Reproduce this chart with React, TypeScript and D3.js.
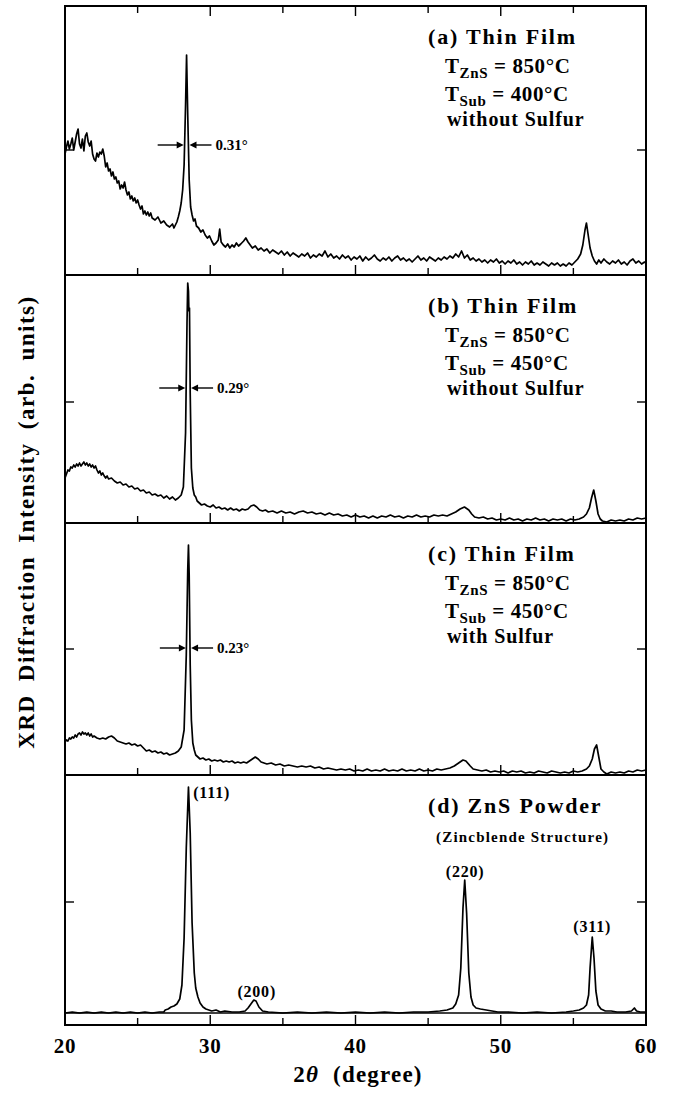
import * as d3 from "d3"

// 2θ axis
const xMajor = [30, 40, 50]
const xMinor = [25, 35, 45, 55]
const xLabels = [20, 30, 40, 50, 60]

// intensities (arb. units)
const filmA: [number, number][] = [
  [20.0,121],[20.1,128],[20.2,134],[20.3,126],[20.4,131],[20.5,137],[20.6,125],[20.7,133],[20.8,141],[20.9,146],
  [21.0,131],[21.1,127],[21.2,136],[21.3,124],[21.4,139],[21.5,142],[21.6,133],[21.7,129],[21.8,134],[21.9,121],
  [22.0,116],[22.1,114],[22.2,122],[22.3,118],[22.4,123],[22.5,121],[22.6,126],[22.7,119],[22.8,108],[22.9,112],
  [23.0,104],[23.1,106],[23.2,99],[23.3,103],[23.4,96],[23.5,98],[23.6,92],[23.7,94],[23.8,86],[23.9,90],
  [24.0,87],[24.1,93],[24.2,85],[24.3,80],[24.4,83],[24.5,76],[24.6,79],[24.7,74],[24.8,77],[24.9,72],
  [25.0,75],[25.1,70],[25.2,66],[25.3,69],[25.4,61],[25.5,64],[25.6,60],[25.7,63],[25.8,59],[25.9,62],
  [26.0,57],[26.2,55],[26.4,58],[26.6,52],[26.8,54],[27.0,50],[27.2,48],[27.4,51],[27.5,47],[27.6,50],
  [27.7,53],[27.8,58],[27.9,64],[28.0,72],[28.1,85],[28.2,110],[28.3,170],[28.37,220],[28.45,160],[28.55,95],
  [28.65,68],[28.75,60],[28.85,54],[28.95,56],[29.05,49],[29.2,47],[29.35,43],[29.5,45],[29.65,40],[29.8,37],
  [29.95,39],[30.1,34],[30.25,30],[30.4,32],[30.55,35],[30.65,46],[30.75,33],[30.9,30],[31.05,28],[31.2,31],
  [31.35,27],[31.5,30],[31.65,28],[31.8,32],[31.95,29],[32.1,31],[32.3,34],[32.45,37],[32.6,33],[32.75,30],
  [32.9,27],[33.1,29],[33.3,25],[33.5,27],[33.7,24],[33.9,26],[34.1,22],[34.3,25],[34.5,23],[34.7,21],
  [34.9,24],[35.1,20],[35.3,23],[35.5,19],[35.7,22],[35.9,20],[36.1,18],[36.3,21],[36.5,19],[36.7,22],
  [36.9,17],[37.1,20],[37.3,18],[37.5,21],[37.7,19],[37.9,24],[38.1,18],[38.3,21],[38.5,17],[38.7,19],
  [38.9,16],[39.1,20],[39.3,17],[39.5,19],[39.7,15],[39.9,18],[40.1,16],[40.3,19],[40.5,14],[40.7,18],
  [40.9,15],[41.1,17],[41.3,20],[41.5,16],[41.7,14],[41.9,17],[42.1,15],[42.3,18],[42.5,14],[42.7,17],
  [42.9,19],[43.1,15],[43.3,17],[43.5,14],[43.7,16],[43.9,13],[44.1,16],[44.3,19],[44.5,15],[44.7,17],
  [44.9,14],[45.1,18],[45.3,16],[45.5,14],[45.7,17],[45.9,15],[46.1,18],[46.3,16],[46.5,19],[46.7,17],
  [46.9,21],[47.1,18],[47.3,24],[47.5,17],[47.7,20],[47.9,15],[48.1,17],[48.3,14],[48.5,16],[48.7,13],
  [48.9,15],[49.1,12],[49.3,15],[49.5,13],[49.7,16],[49.9,12],[50.1,14],[50.3,11],[50.5,14],[50.7,12],
  [50.9,15],[51.1,11],[51.3,13],[51.5,10],[51.7,13],[51.9,11],[52.1,14],[52.3,10],[52.5,12],[52.7,10],
  [52.9,13],[53.1,11],[53.3,9],[53.5,12],[53.7,10],[53.9,12],[54.1,9],[54.3,11],[54.5,9],[54.7,12],
  [54.9,10],[55.1,13],[55.3,16],[55.5,21],[55.65,30],[55.8,45],[55.9,52],[56.0,42],[56.15,27],[56.3,19],
  [56.45,14],[56.6,11],[56.75,15],[56.9,12],[57.1,16],[57.3,13],[57.5,11],[57.7,14],[57.9,12],[58.1,15],
  [58.3,11],[58.5,13],[58.7,10],[58.9,14],[59.1,16],[59.3,12],[59.5,14],[59.7,11],[59.9,13],[60.0,12],
]

const filmB: [number, number][] = [
  [20.0,45],[20.1,49],[20.2,53],[20.3,52],[20.4,56],[20.5,55],[20.6,58],[20.7,56],[20.8,59],[20.9,57],
  [21.0,60],[21.1,57],[21.2,59],[21.3,61],[21.4,58],[21.5,60],[21.6,57],[21.7,59],[21.8,56],[21.9,58],
  [22.0,55],[22.1,57],[22.2,53],[22.3,50],[22.4,52],[22.5,48],[22.6,50],[22.7,47],[22.8,45],[22.9,47],
  [23.0,44],[23.2,45],[23.4,42],[23.6,40],[23.8,41],[24.0,38],[24.2,39],[24.4,36],[24.6,37],[24.8,34],
  [25.0,35],[25.2,32],[25.4,33],[25.6,30],[25.8,31],[26.0,28],[26.2,29],[26.4,27],[26.6,28],[26.8,25],
  [27.0,27],[27.2,24],[27.4,26],[27.6,23],[27.8,25],[28.0,28],[28.15,36],[28.3,90],[28.4,200],[28.45,240],
  [28.5,232],[28.53,212],[28.57,215],[28.62,130],[28.7,55],[28.8,35],[28.9,28],[29.0,26],[29.1,22],[29.25,20],
  [29.4,18],[29.6,19],[29.8,17],[30.0,16],[30.2,18],[30.4,15],[30.6,16],[30.8,14],[31.0,15],[31.2,13],
  [31.4,15],[31.6,13],[31.8,14],[32.0,12],[32.2,14],[32.4,13],[32.6,14],[32.8,17],[33.0,18],[33.2,16],
  [33.4,13],[33.6,12],[33.8,13],[34.0,11],[34.3,12],[34.6,10],[34.9,12],[35.2,10],[35.5,11],[35.8,9],
  [36.1,11],[36.4,12],[36.7,10],[37.0,11],[37.3,9],[37.6,10],[37.9,8],[38.2,10],[38.5,8],[38.8,9],
  [39.1,7],[39.4,8],[39.7,6],[40.0,8],[40.3,6],[40.6,7],[40.9,5],[41.2,7],[41.5,5],[41.8,7],
  [42.1,6],[42.4,8],[42.7,6],[43.0,7],[43.3,5],[43.6,7],[43.9,6],[44.2,8],[44.5,6],[44.8,7],
  [45.1,6],[45.4,8],[45.7,7],[46.0,8],[46.3,7],[46.6,9],[46.9,11],[47.2,14],[47.5,16],[47.8,13],
  [48.0,9],[48.2,6],[48.5,5],[48.8,6],[49.1,4],[49.4,5],[49.7,3],[50.0,4],[50.3,3],[50.6,5],
  [50.9,3],[51.2,4],[51.5,2],[51.8,4],[52.1,3],[52.4,5],[52.7,3],[53.0,4],[53.3,2],[53.6,4],
  [53.9,3],[54.2,4],[54.5,2],[54.8,4],[55.1,3],[55.4,4],[55.7,6],[55.9,9],[56.1,15],[56.25,25],
  [56.4,33],[56.55,22],[56.7,9],[56.85,4],[57.0,2],[57.3,1],[57.6,3],[57.9,2],[58.2,3],[58.5,2],
  [58.8,4],[59.1,3],[59.4,5],[59.7,4],[60.0,5],
]

const filmC: [number, number][] = [
  [20.0,33],[20.1,35],[20.2,34],[20.3,37],[20.4,36],[20.5,38],[20.6,37],[20.7,40],[20.8,38],[20.9,41],
  [21.0,42],[21.1,40],[21.2,43],[21.3,41],[21.4,42],[21.5,40],[21.6,42],[21.7,39],[21.8,41],[21.9,38],
  [22.0,39],[22.2,37],[22.4,36],[22.6,37],[22.8,36],[23.0,38],[23.2,39],[23.4,37],[23.6,34],[23.8,33],
  [24.0,32],[24.2,31],[24.4,32],[24.6,30],[24.8,31],[25.0,29],[25.2,30],[25.4,27],[25.6,24],[25.8,25],
  [26.0,23],[26.2,24],[26.4,22],[26.6,23],[26.8,21],[27.0,22],[27.2,20],[27.4,21],[27.6,22],[27.8,24],
  [28.0,28],[28.2,45],[28.35,120],[28.45,205],[28.5,230],[28.55,200],[28.62,110],[28.7,55],[28.8,32],[28.9,25],
  [29.0,20],[29.15,18],[29.3,16],[29.5,17],[29.7,15],[29.9,16],[30.1,14],[30.3,15],[30.5,14],[30.7,15],
  [30.9,13],[31.1,14],[31.3,13],[31.5,14],[31.7,12],[31.9,13],[32.1,12],[32.3,13],[32.5,12],[32.7,14],
  [32.9,16],[33.1,18],[33.3,16],[33.5,13],[33.7,12],[33.9,11],[34.2,12],[34.5,10],[34.8,11],[35.1,9],
  [35.4,10],[35.7,9],[36.0,8],[36.3,9],[36.6,8],[36.9,9],[37.2,7],[37.5,8],[37.8,6],[38.1,7],
  [38.4,6],[38.7,5],[39.0,6],[39.3,5],[39.6,6],[39.9,4],[40.2,5],[40.5,4],[40.8,6],[41.1,4],
  [41.4,5],[41.7,4],[42.0,6],[42.3,4],[42.6,5],[42.9,4],[43.2,6],[43.5,4],[43.8,5],[44.1,4],
  [44.4,6],[44.7,4],[45.0,5],[45.3,4],[45.6,6],[45.9,5],[46.2,6],[46.5,7],[46.8,9],[47.1,12],
  [47.4,15],[47.6,14],[47.9,9],[48.1,6],[48.4,5],[48.7,4],[49.0,5],[49.3,3],[49.6,4],[49.9,3],
  [50.2,4],[50.5,2],[50.8,4],[51.1,3],[51.4,4],[51.7,2],[52.0,3],[52.3,2],[52.6,4],[52.9,3],
  [53.2,2],[53.5,4],[53.8,3],[54.1,2],[54.4,3],[54.7,2],[55.0,4],[55.3,3],[55.6,4],[55.9,6],
  [56.1,9],[56.3,16],[56.45,26],[56.6,30],[56.75,18],[56.9,6],[57.1,3],[57.3,1],[57.6,3],[57.9,2],
  [58.2,3],[58.5,2],[58.8,4],[59.1,3],[59.4,5],[59.7,4],[60.0,5],
]

const powderD: [number, number][] = [
  [20.0,0],[20.5,1],[21.0,0],[21.5,1],[22.0,0],[22.5,1],[23.0,0],[23.5,1],[24.0,0],[24.5,1],
  [25.0,0],[25.5,1],[26.0,0],[26.5,1],[26.8,1],[26.9,3],[27.1,4],[27.3,6],[27.5,7],[27.7,9],
  [27.9,14],[28.05,28],[28.2,75],[28.35,165],[28.5,226],[28.62,180],[28.75,90],[28.9,40],[29.0,25],[29.15,16],
  [29.3,10],[29.5,6],[29.7,4],[29.9,3],[30.1,2],[30.4,3],[30.7,1],[31.0,2],[31.5,1],[32.0,1],
  [32.4,2],[32.6,5],[32.8,9],[33.0,13],[33.15,12],[33.35,6],[33.6,2],[34.0,1],[35.0,0],[36.0,1],
  [37.0,0],[38.0,1],[39.0,0],[40.0,1],[41.0,0],[42.0,1],[43.0,0],[44.0,1],[45.0,1],[45.8,2],
  [46.3,3],[46.7,5],[46.9,9],[47.1,18],[47.25,45],[47.4,105],[47.52,133],[47.65,100],[47.8,40],[47.95,16],
  [48.1,8],[48.3,5],[48.6,4],[49.0,3],[49.4,2],[49.8,1],[50.5,1],[51.5,0],[52.5,1],[53.5,0],
  [54.5,1],[55.0,2],[55.4,3],[55.7,5],[55.9,8],[56.05,18],[56.15,45],[56.3,76],[56.42,55],[56.55,22],
  [56.7,8],[56.9,4],[57.2,2],[57.6,2],[58.0,1],[58.6,1],[59.0,2],[59.2,5],[59.35,2],[59.6,1],
  [60.0,1],
]

// FWHM marks: [peak 2θ, half gap 2θ, intensity level, label]
const fwhmA: [number, number, number, string] = [28.37, 0.2, 130, "0.31°"]
const fwhmB: [number, number, number, string] = [28.48, 0.2, 135, "0.29°"]
const fwhmC: [number, number, number, string] = [28.5, 0.18, 127, "0.23°"]

// powder reflections: [label, 2θ, intensity of label]
const reflections: [string, number, number][] = [
  ["(111)", 28.55, 215],
  ["(200)", 33.2, 16],
  ["(220)", 47.55, 136],
  ["(311)", 56.3, 81],
]

const W = 677
const H = 1097
const x = d3.scaleLinear().domain([20, 60]).range([65, 646])
const font = "'Liberation Serif', 'Times New Roman', serif"

type Panel = {
  key: string
  top: number
  bottom: number
  base: number
  data: [number, number][]
  yTick: number
  title: string
  lines?: [string, string, string][]
  extra?: string
  fwhm?: [number, number, number, string]
}

const panels: Panel[] = [
  { key: "a", top: 6, bottom: 275, base: 275, data: filmA, yTick: 125, title: "(a) Thin Film",
    lines: [["T", "ZnS", " = 850°C"], ["T", "Sub", " = 400°C"]], extra: "without Sulfur", fwhm: fwhmA },
  { key: "b", top: 275, bottom: 523, base: 523, data: filmB, yTick: 121, title: "(b) Thin Film",
    lines: [["T", "ZnS", " = 850°C"], ["T", "Sub", " = 450°C"]], extra: "without Sulfur", fwhm: fwhmB },
  { key: "c", top: 523, bottom: 775, base: 775, data: filmC, yTick: 126, title: "(c) Thin Film",
    lines: [["T", "ZnS", " = 850°C"], ["T", "Sub", " = 450°C"]], extra: "with Sulfur", fwhm: fwhmC },
  { key: "d", top: 775, bottom: 1025, base: 1013, data: powderD, yTick: 111, title: "(d) ZnS Powder" },
]

function Arrow({ x1, x2, y }: { x1: number; x2: number; y: number }) {
  const dir = x2 > x1 ? 1 : -1
  return (
    <g>
      <line x1={x1} y1={y} x2={x2 - dir * 4} y2={y} stroke="#000" strokeWidth={1.4} />
      <path d={`M${x2},${y} L${x2 - dir * 7},${y - 3.5} L${x2 - dir * 7},${y + 3.5} Z`} fill="#000" />
    </g>
  )
}

function PanelView({ p }: { p: Panel }) {
  const y = d3.scaleLinear().domain([0, p.base - p.top]).range([p.base, p.top])
  const line = d3.line<[number, number]>().x(d => x(d[0])).y(d => y(d[1]))
  const tx = 428
  return (
    <g>
      <path d={line(p.data) ?? ""} fill="none" stroke="#000" strokeWidth={1.7} strokeLinejoin="round" />
      {p.key === "d" && (
        <line x1={x(20)} x2={x(60)} y1={p.base} y2={p.base} stroke="#000" strokeWidth={1.6} />
      )}
      <rect x={x(20)} y={p.top} width={x(60) - x(20)} height={p.bottom - p.top} fill="none" stroke="#000" strokeWidth={2} />
      {xMajor.concat(xMinor).map(t => {
        const len = xMajor.includes(t) ? 10 : 7
        return (
          <g key={t}>
            <line x1={x(t)} x2={x(t)} y1={p.bottom} y2={p.bottom - len} stroke="#000" strokeWidth={1.4} />
            {p.key === "a" && (
              <line x1={x(t)} x2={x(t)} y1={p.top} y2={p.top + len} stroke="#000" strokeWidth={1.4} />
            )}
          </g>
        )
      })}
      <line x1={x(20)} x2={x(20) + 9} y1={y(p.yTick)} y2={y(p.yTick)} stroke="#000" strokeWidth={1.4} />
      <line x1={x(60)} x2={x(60) - 9} y1={y(p.yTick)} y2={y(p.yTick)} stroke="#000" strokeWidth={1.4} />

      <text x={tx} y={p.top + 38} fontSize={22} letterSpacing={1.8} fontWeight="bold" style={{ whiteSpace: "pre" }}>
        {p.title}
      </text>
      {p.lines?.map((l, i) => (
        <text key={i} x={445} y={p.top + 67 + i * 28} fontSize={21} letterSpacing={0.6} fontWeight="bold" style={{ whiteSpace: "pre" }}>
          {l[0]}
          <tspan fontSize={15} dy={5}>{l[1]}</tspan>
          <tspan dy={-5}>{l[2]}</tspan>
        </text>
      ))}
      {p.extra && (
        <text x={447} y={p.top + 120} fontSize={20} letterSpacing={0.9} fontWeight="bold" style={{ whiteSpace: "pre" }}>
          {p.extra}
        </text>
      )}
      {p.fwhm && (() => {
        const [c, h, lv, lab] = p.fwhm
        const ay = y(lv)
        return (
          <g>
            <Arrow x1={x(c - h) - 26} x2={x(c - h)} y={ay} />
            <Arrow x1={x(c + h) + 22} x2={x(c + h)} y={ay} />
            <text x={x(c + h) + 26} y={ay + 5} fontSize={15} fontWeight="bold">{lab}</text>
          </g>
        )
      })()}
      {p.key === "d" && (
        <g>
          <text x={tx + 8} y={p.top + 67} fontSize={15} letterSpacing={1.2} fontWeight="bold" style={{ whiteSpace: "pre" }}>
            (Zincblende Structure)
          </text>
          {reflections.map(([lab, t, lv]) => (
            <text key={lab} x={lab === "(111)" ? x(t) + 4 : x(t)} y={y(lv)} fontSize={16} letterSpacing={0.8}
              fontWeight="bold" textAnchor={lab === "(111)" ? "start" : "middle"}>
              {lab}
            </text>
          ))}
        </g>
      )}
    </g>
  )
}

export default function App() {
  return (
    <svg width={W} height={H} viewBox={`0 0 ${W} ${H}`}
      style={{ position: "absolute", left: 0, top: 0, background: "#fff" }}
      fontFamily={font}>
      <rect width={W} height={H} fill="#fff" />
      {panels.map(p => <PanelView key={p.key} p={p} />)}
      {xLabels.map(t => (
        <text key={t} x={x(t)} y={1053} textAnchor="middle" fontSize={21} fontWeight="bold" letterSpacing={0.8}>
          {t}
        </text>
      ))}
      <text x={358} y={1082} textAnchor="middle" fontSize={23} fontWeight="bold" letterSpacing={1.2} style={{ whiteSpace: "pre" }}>
        2<tspan fontStyle="italic">θ</tspan>  (degree)
      </text>
      <text transform="translate(34,522) rotate(-90)" textAnchor="middle" fontSize={23} fontWeight="bold"
        letterSpacing={1.5} wordSpacing={6}>
        XRD Diffraction Intensity (arb. units)
      </text>
    </svg>
  )
}
